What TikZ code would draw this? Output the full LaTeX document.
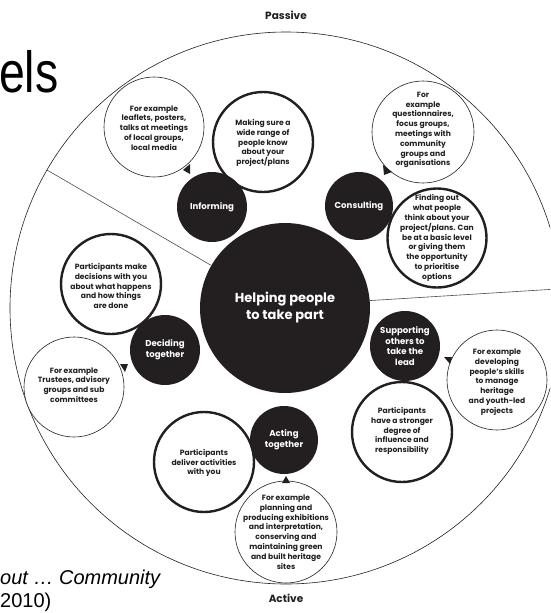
\documentclass[tikz,border=0pt]{standalone}
\usepackage{fontspec}
\newfontfamily\pop{Poppins}
\newfontfamily\arialf{Liberation Sans}
\definecolor{ink}{HTML}{231F20}
\tikzset{
  blackc/.style={circle, fill=ink, inner sep=0pt, minimum size=#1},
  thickc/.style={circle, draw=ink, line width=2.4pt, fill=white, inner sep=0pt, minimum size=#1},
  exc/.style={circle, draw=ink, line width=0.6pt, fill=white, inner sep=0pt, minimum size=#1},
  wtxt/.style={text=white, font=\pop\bfseries\fontsize{8.6}{10.8}\selectfont, align=center, inner sep=0pt},
  btxt/.style={text=ink, font=\pop\bfseries\fontsize{7.6}{9.8}\selectfont, align=center, inner sep=0pt},
  poletxt/.style={text=ink, font=\pop\bfseries\fontsize{10.5}{12}\selectfont, inner sep=0pt},
  divider/.style={draw=ink!80, line width=0.6pt},
  ptr/.style={fill=ink},
  slidetxt/.style={font=\arialf, inner sep=0pt, anchor=base west}
}
\begin{document}
\begin{tikzpicture}[x=1pt,y=-1pt]
\useasboundingbox (0,0) rectangle (550,613);
\clip (0,0) rectangle (550,613);
\fill[white] (0,0) rectangle (550,613);

% slide remnants
\node[slidetxt, font=\arialf\fontsize{58}{60}\selectfont, xscale=0.8, transform shape] (title) at (-1,92) {els};
\node[slidetxt, font=\arialf\itshape\fontsize{20}{23}\selectfont] (cite1) at (0,584) {out … Community};
\node[slidetxt, font=\arialf\fontsize{20}{23}\selectfont] (cite2) at (0,607) {2010)};

% poles
\node[poletxt] (passive) at (286,15) {Passive};
\node[poletxt] (active) at (286,598) {Active};

% outer circle and hub
\node[circle, draw=ink, line width=0.6pt, inner sep=0pt, minimum size=552pt] (outer) at (286,308) {};
\node[blackc=170pt] (hub) at (285,308) {};
\draw[divider] (hub.150) -- (outer.150.5);
\draw[divider] (hub.5.5) -- (outer.4.5);
\node[wtxt, font=\pop\bfseries\fontsize{13}{17}\selectfont] (hubt) at (hub) {Helping people\\to take part};

% example bubbles (thin)
\node[exc=100pt] (exinf) at (154,127) {};
\node[btxt] (exinft) at (154,128) {For example\\leaflets, posters,\\talks at meetings\\of local groups,\\local media};
\node[exc=102pt] (excon) at (423,132) {};
\node[btxt] (excont) at (423,130) {For\\example\\questionnaires,\\focus groups,\\meetings with\\community\\groups and\\organisations};
\node[exc=100pt] (exdec) at (74,387) {};
\node[btxt] (exdect) at (74,385) {For example\\Trustees, advisory\\groups and sub\\committees};
\node[exc=100pt] (exsup) at (497,380) {};
\node[btxt] (exsupt) at (497,382) {For example\\developing\\people’s skills\\to manage\\heritage\\and youth-led\\projects};
\node[exc=102pt] (exact) at (286,532) {};
\node[btxt] (exactt) at (286,532) {For example\\planning and\\producing exhibitions\\and interpretation,\\conserving and\\maintaining green\\and built heritage\\sites};

% description bubbles (thick)
\node[thickc=100pt] (dinf) at (263,142) {};
\node[btxt] (dinft) at (263,143) {Making sure a\\wide range of\\people know\\about your\\project/plans};
\node[thickc=99pt] (dcon) at (437,238) {};
\node[btxt] (dcont) at (437,238) {Finding out\\what people\\think about your\\project/plans. Can\\be at a basic level\\or giving them\\the opportunity\\to prioritise\\options};
\node[thickc=100pt] (ddec) at (111,284) {};
\node[btxt] (ddect) at (111,286) {Participants make\\decisions with you\\about what happens\\and how things\\are done};
\node[thickc=100pt] (dsup) at (402,432) {};
\node[btxt] (dsupt) at (402,431) {Participants\\have a stronger\\degree of\\influence and\\responsibility};
\node[thickc=100pt] (dact) at (204,462) {};
\node[btxt] (dactt) at (204,463) {Participants\\deliver activities\\with you};

% black level circles
\node[blackc=70pt] (inf) at (212,207) {};
\node[wtxt] (inft) at (inf) {Informing};
\node[blackc=68pt] (con) at (359,206) {};
\node[wtxt] (cont) at (con) {Consulting};
\node[blackc=70pt] (dec) at (165,350) {};
\node[wtxt] (dect) at (dec) {Deciding\\together};
\node[blackc=70pt] (sup) at (405,346) {};
\node[wtxt] (supt) at (sup) {Supporting\\others to\\take the\\lead};
\node[blackc=68pt] (act) at (284,440) {};
\node[wtxt] (actt) at (act) {Acting\\together};

% pointer marks
\fill[ptr] (183,170) -- (190,164) -- (190,174) -- cycle;
\fill[ptr] (383,165) -- (384,175) -- (392,172) -- cycle;
\fill[ptr] (120,364) -- (128,364) -- (125,372) -- cycle;
\fill[ptr] (444,357) -- (452,357) -- (450,364) -- cycle;
\fill[ptr] (282,483) -- (290,483) -- (286,476) -- cycle;
\end{tikzpicture}
\end{document}
